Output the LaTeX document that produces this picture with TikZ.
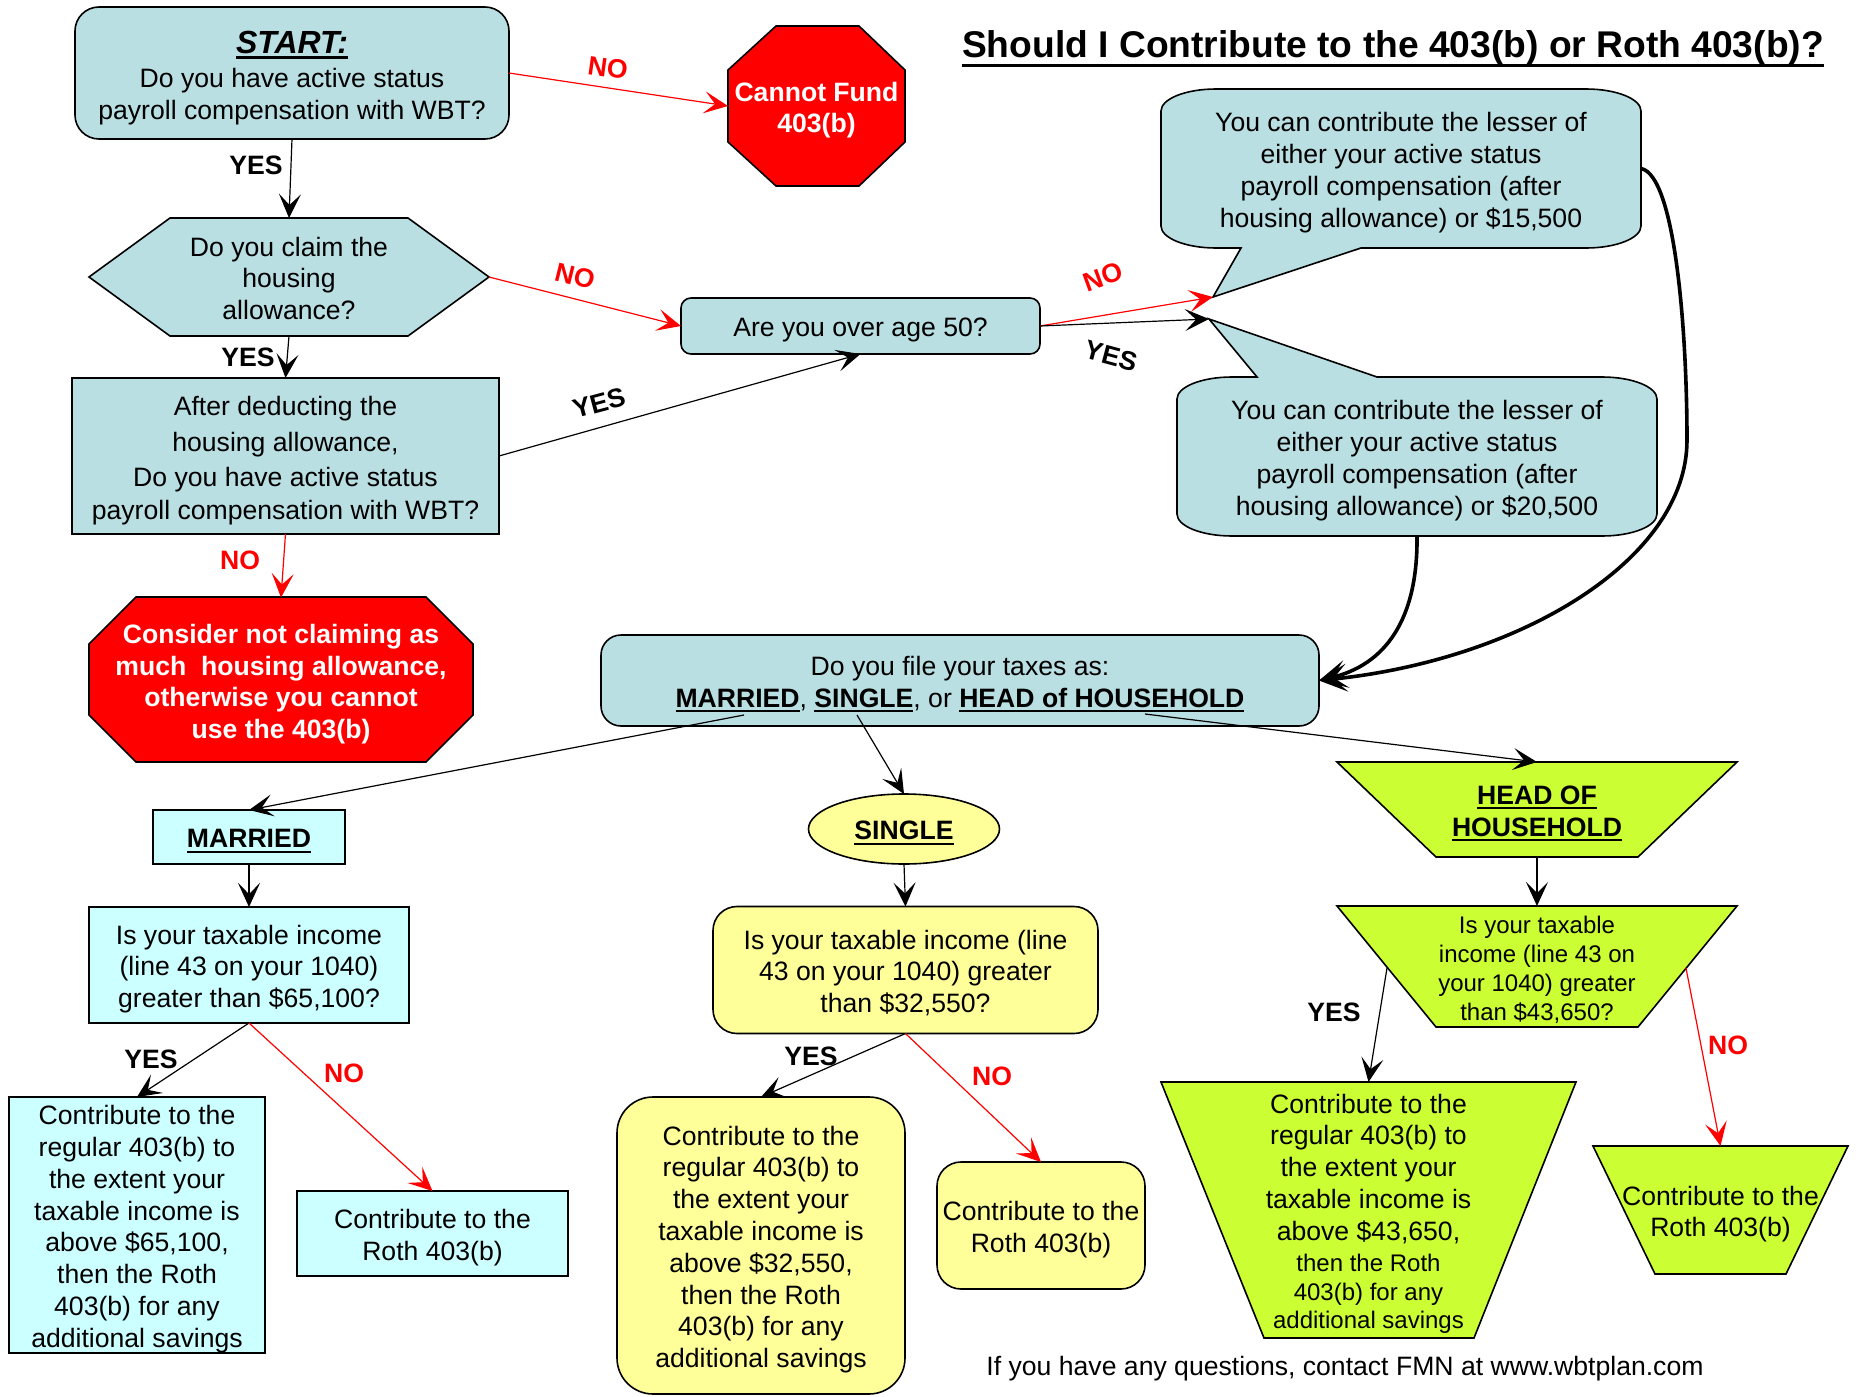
\documentclass[tikz,border=0pt]{standalone}
\usepackage{fontspec}
\setmainfont{Liberation Sans}
\usetikzlibrary{arrows.meta,shapes.geometric}
\definecolor{cblue}{HTML}{B9DFE3}
\definecolor{ccyan}{HTML}{CCFFFF}
\definecolor{cyel}{HTML}{FFFF99}
\definecolor{cgreen}{HTML}{CCFF33}
\definecolor{cred}{HTML}{FF0000}
\newcommand{\fs}{\fontsize{13.3}{15.9}\selectfont}
\newcommand{\sm}{\fontsize{12}{14.5}\selectfont}
\newcommand{\myul}[1]{\leavevmode\setbox0=\hbox{#1}\rlap{\rule[-2.4pt]{\wd0}{1.1pt}}\box0}
\newcommand{\myulT}[1]{\leavevmode\setbox0=\hbox{#1}\rlap{\rule[-5pt]{\wd0}{1.8pt}}\box0}
\newcommand{\mytx}[1]{\raisebox{-2.3pt}[\height][\depth]{\begin{tabular}{@{}c@{}}#1\end{tabular}}}
\tikzset{
  txt/.style={font=\fs, inner sep=0pt, outer sep=0pt},
  box/.style={txt, draw=black, line width=0.8pt},
  shp/.style={draw=black, line width=0.8pt},
  arr/.style={-{Stealth[length=12pt,width=11pt,inset=5.5pt]}, line width=0.6pt, black},
  rarr/.style={arr, cred},
  bigarr/.style={-{Stealth[length=14pt,width=14pt,inset=7pt]}, line width=1.8pt, black},
  lab/.style={font=\bfseries\fs, inner sep=0pt},
  rlab/.style={lab, text=cred},
}
\begin{document}
\begin{tikzpicture}[x=0.5pt,y=-0.5pt]
\useasboundingbox (0,0) rectangle (1860,1397);

% title
\node[txt, font=\bfseries\fontsize{18.6}{22}\selectfont] (title) at (1393,44) {\mytx{\myulT{Should I Contribute to the 403(b) or Roth 403(b)?}}};

% start
\node[box, fill=cblue, rounded corners=12pt, minimum width=217pt, minimum height=66pt] (start) at (292,73)
 {\raisebox{-1.2pt}[\height][\depth]{\mytx{{\fontsize{16}{19}\selectfont\bfseries\itshape\myul{START:}}\\[0.9pt]Do you have active status\\payroll compensation with WBT?}}};

% cannot fund octagon
\path[shp, fill=cred] (776,26)--(859,26)--(905,70)--(905,142)--(859,186)--(776,186)--(728,142)--(728,70)--cycle;
\node[txt, text=white, font=\bfseries\fs, minimum width=88.5pt, minimum height=80pt] (cannot) at (816.5,106) {\mytx{Cannot Fund\\403(b)}};

% hexagon
\path[shp, fill=cblue] (89,277)--(170,218)--(408,218)--(489,277)--(408,336)--(170,336)--cycle;
\node[txt, minimum width=200pt, minimum height=59pt] (hex) at (289,277) {\mytx{Do you claim the\\housing\\allowance?}};

% after deducting
\node[box, fill=cblue, font=\fontsize{13.3}{16.4}\selectfont, minimum width=213.5pt, minimum height=78pt] (after) at (285.5,456)
 {\mytx{After deducting the\\[2pt]housing allowance,\\[0.8pt]Do you have active status\\payroll compensation with WBT?}};

% consider octagon
\path[shp, fill=cred] (136,597)--(426,597)--(473,644)--(473,715)--(426,762)--(136,762)--(89,715)--(89,644)--cycle;
\node[txt, text=white, font=\bfseries\fs, minimum width=192pt, minimum height=82.5pt] (consider) at (281,680)
 {\mytx{Consider not claiming as\\much~ housing allowance,\\otherwise you cannot\\use the 403(b)}};

% age 50
\node[box, fill=cblue, rounded corners=5pt, minimum width=179.5pt, minimum height=28pt] (age) at (860.5,326) {\mytx{Are you over age 50?}};

% callouts
\coordinate (tip1) at (1213,297);
\coordinate (tip2) at (1209,319);
\path[shp, fill=cblue] (1216,89) -- (1586,89) .. controls (1616.4,89) and (1641,98.9) .. (1641,111) -- (1641,226)
  .. controls (1641,238.1) and (1616.4,248) .. (1586,248) -- (1361,248) -- (tip1) -- (1241,248) -- (1216,248)
  .. controls (1185.6,248) and (1161,238.1) .. (1161,226) -- (1161,111) .. controls (1161,98.9) and (1185.6,89) .. (1216,89) -- cycle;
\node[txt, minimum width=240pt, minimum height=79.5pt] (c1) at (1401,168.5)
 {\mytx{You can contribute the lesser of\\either your active status\\payroll compensation (after\\housing allowance) or \$15,500}};
\path[shp, fill=cblue] (1232,377) -- (1257,377) -- (tip2) -- (1377,377) -- (1602,377) .. controls (1632.4,377) and (1657,386.9) .. (1657,399)
  -- (1657,514) .. controls (1657,526.1) and (1632.4,536) .. (1602,536) -- (1232,536)
  .. controls (1201.6,536) and (1177,526.1) .. (1177,514) -- (1177,399) .. controls (1177,386.9) and (1201.6,377) .. (1232,377) -- cycle;
\node[txt, minimum width=240pt, minimum height=79.5pt] (c2) at (1417,456.5)
 {\mytx{You can contribute the lesser of\\either your active status\\payroll compensation (after\\housing allowance) or \$20,500}};

% filing
\node[box, fill=cblue, rounded corners=10pt, minimum width=359pt, minimum height=45.5pt] (filing) at (960,680.5)
 {\mytx{Do you file your taxes as:\\\myul{\textbf{MARRIED}}, \myul{\textbf{SINGLE}}, or \myul{\textbf{HEAD of HOUSEHOLD}}}};

% married branch
\node[box, fill=ccyan, minimum width=96pt, minimum height=27pt] (married) at (249,837) {\mytx{\myul{\textbf{MARRIED}}}};
\node[box, fill=ccyan, minimum width=160pt, minimum height=58pt] (mq) at (249,965)
 {\mytx{Is your taxable income\\(line 43 on your 1040)\\greater than \$65,100?}};
\node[box, fill=ccyan, minimum width=128pt, minimum height=128pt] (mr) at (137,1225)
 {\mytx{Contribute to the\\regular 403(b) to\\the extent your\\taxable income is\\above \$65,100,\\then the Roth\\403(b) for any\\additional savings}};
\node[box, fill=ccyan, minimum width=135.5pt, minimum height=42.5pt] (mroth) at (432.5,1233.5) {\mytx{Contribute to the\\Roth 403(b)}};

% single branch
\node[box, fill=cyel, ellipse, minimum width=95.5pt, minimum height=35pt] (single) at (904,829) {\mytx{\myul{\textbf{SINGLE}}}};
\node[box, fill=cyel, rounded corners=12pt, minimum width=192.5pt, minimum height=63.5pt] (sq) at (905.5,970)
 {\mytx{Is your taxable income (line\\43 on your 1040) greater\\than \$32,550?}};
\node[box, fill=cyel, rounded corners=18pt, minimum width=144pt, minimum height=148.5pt] (sr) at (761,1245.5)
 {\mytx{Contribute to the\\regular 403(b) to\\the extent your\\taxable income is\\above \$32,550,\\then the Roth\\403(b) for any\\additional savings}};
\node[box, fill=cyel, rounded corners=12pt, minimum width=104pt, minimum height=63.5pt] (sroth) at (1041,1225.5) {\mytx{Contribute to the\\Roth 403(b)}};

% head of household branch
\path[shp, fill=cgreen] (1337,762)--(1737,762)--(1638,857)--(1436,857)--cycle;
\node[txt, minimum width=200pt, minimum height=47.5pt] (hoh) at (1537,809.5) {\mytx{\myul{\textbf{HEAD OF}}\\\myul{\textbf{HOUSEHOLD}}}};
\path[shp, fill=cgreen] (1337,906)--(1737,906)--(1638,1027)--(1436,1027)--cycle;
\node[txt, font=\sm, minimum width=200pt, minimum height=60.5pt] (hq) at (1537,966.5)
 {\mytx{Is your taxable\\income (line 43 on\\your 1040) greater\\than \$43,650?}};
\path[shp, fill=cgreen] (1161,1082)--(1576,1082)--(1474,1338)--(1264,1338)--cycle;
\node[txt, minimum width=207.5pt, minimum height=128pt] (hr) at (1368.5,1210)
 {\mytx{Contribute to the\\regular 403(b) to\\the extent your\\taxable income is\\above \$43,650,\\[-0.5pt]\sm then the Roth\\[-1pt]\sm 403(b) for any\\[-2pt]\sm additional savings}};
\path[shp, fill=cgreen] (1593,1146)--(1848,1146)--(1786,1274)--(1655,1274)--cycle;
\node[txt, minimum width=127.5pt, minimum height=64pt] (hroth) at (1720.5,1210) {\mytx{Contribute to the\\Roth 403(b)}};

% footer
\node[txt] (foot) at (1345,1365) {\mytx{If you have any questions, contact FMN at www.wbtplan.com}};

% connectors top
\draw[rarr] (start.east) -- (cannot.west);
\draw[arr] (start.south) -- (hex.north);
\draw[rarr] (hex.east) -- (age.west);
\draw[arr] (hex.south) -- (after.north);
\draw[arr] (after.east) -- (age.south);
\draw[rarr] (after.south) -- (consider.north);
\draw[rarr] (age.east) -- (tip1);
\draw[arr] (age.east) -- (tip2);
\draw[bigarr] (c1.east) .. controls (1675,175) and (1687,330) .. (1687,440) .. controls (1687,560) and (1520,660) .. (filing.east);
\draw[bigarr] (c2.south) .. controls (1418,620) and (1385,665) .. (filing.east);

% connectors bottom
\coordinate (fM) at (744,715);
\coordinate (fS) at (857,715);
\coordinate (fH) at (1145,714);
\draw[arr] (fM) -- (married.north);
\draw[arr] (fS) -- (single.north);
\draw[arr] (fH) -- (hoh.north);
\draw[arr] (married.south) -- (mq.north);
\draw[arr] (single.south) -- (sq.north);
\draw[arr] (hoh.south) -- (hq.north);
\draw[arr] (mq.south) -- (mr.north);
\draw[rarr] (mq.south) -- (mroth.north);
\draw[arr] (sq.south) -- (sr.north);
\draw[rarr] (sq.south) -- (sroth.north);
\coordinate (hqL) at (1387,968);
\coordinate (hqR) at (1686,968);
\draw[arr] (hqL) -- (hr.north);
\draw[rarr] (hqR) -- (hroth.north);

% labels
\node[rlab, rotate=-8] (no1) at (608,68) {NO};
\node[lab] (yes1) at (256,165) {YES};
\node[rlab, rotate=-14] (no2) at (575,276) {NO};
\node[lab] (yes2) at (248,357) {YES};
\node[lab, rotate=15] (yes3) at (599,403) {YES};
\node[rlab] (no3) at (240,560) {NO};
\node[rlab, rotate=20] (no4) at (1103,277) {NO};
\node[lab, rotate=-15] (yes4) at (1111,356) {YES};
\node[lab] (yes5) at (151,1059) {YES};
\node[rlab] (no5) at (344,1073) {NO};
\node[lab] (yes6) at (811,1056) {YES};
\node[rlab] (no6) at (992,1076) {NO};
\node[lab] (yes7) at (1334,1012) {YES};
\node[rlab] (no7) at (1728,1045) {NO};
\end{tikzpicture}
\end{document}
